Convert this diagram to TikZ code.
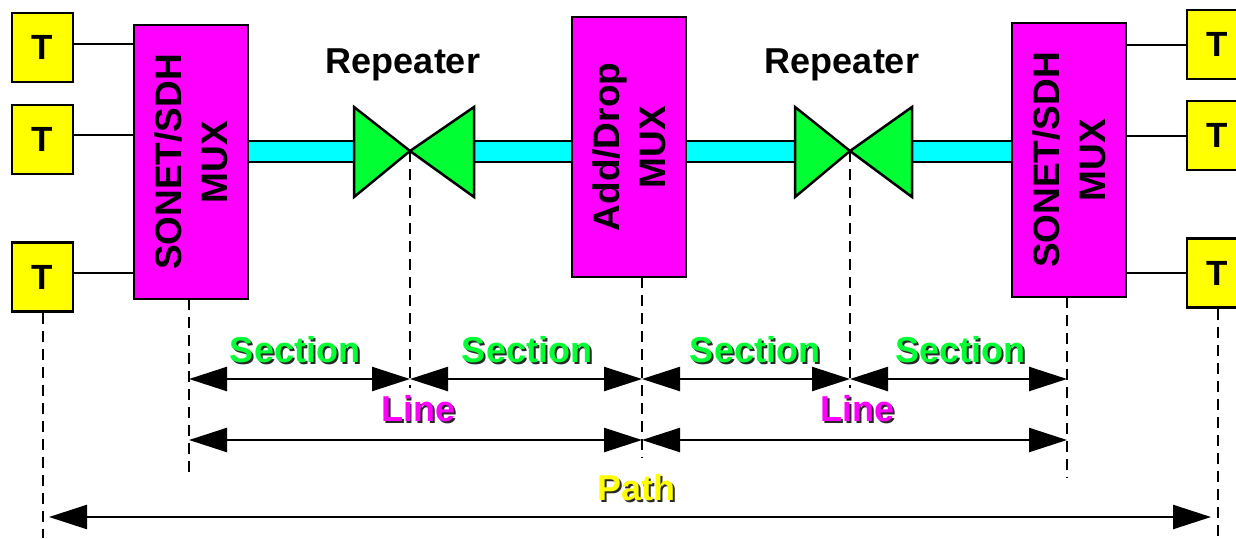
\documentclass[tikz,border=0pt]{standalone}
\usepackage{fontspec}
\setmainfont{Liberation Sans}
\usetikzlibrary{arrows.meta,calc}
\definecolor{tyel}{RGB}{255,255,0}
\definecolor{mag}{RGB}{255,0,255}
\definecolor{cy}{RGB}{0,255,255}
\definecolor{grn}{RGB}{0,255,51}
\definecolor{shd}{RGB}{40,40,40}
\newcommand\ShText[4]{%
  \node[lbl,text=shd] at ([xshift=2pt,yshift=-2pt]#2) {#4};
  \node[lbl,text=#3] (#1) at (#2) {#4};}
\begin{document}
\begin{tikzpicture}[x=1pt,y=-1pt,
  tbox/.style={draw, line width=2.5pt, fill=tyel, minimum width=61pt, minimum height=69pt, inner sep=0pt, font=\fontsize{35}{40}\selectfont\bfseries},
  muxbox/.style={draw, line width=2.5pt, fill=mag, minimum width=114pt, inner sep=0pt},
  muxtxt/.style={rotate=90, align=center, inner sep=0pt, font=\fontsize{37}{46}\selectfont\bfseries},
  lbl/.style={anchor=base, inner sep=0pt, font=\fontsize{36}{40}\selectfont\bfseries},
  wire/.style={line width=2pt},
  vdash/.style={line width=2.6pt, dash pattern=on 11pt off 7pt},
  dimarrow/.style={line width=2.4pt, {Triangle[length=38pt,width=24pt]}-{Triangle[length=38pt,width=24pt]}},
  bar/.style={draw, line width=2.5pt, fill=cy},
  tri/.style={draw, line width=2.5pt, fill=grn, line join=miter}]
\useasboundingbox (0,0) rectangle (1236,538);
\clip (0,0) rectangle (1236,538);

% terminals
\node[tbox] (tl1) at (42.5,47.5) {T};
\node[tbox] (tl2) at (42.5,139.5) {T};
\node[tbox] (tl3) at (42.5,277) {T};
\node[tbox] (tr1) at (1217.5,44.5) {T};
\node[tbox] (tr2) at (1217.5,135.5) {T};
\node[tbox] (tr3) at (1217.5,273) {T};

% muxes
\node[muxbox, minimum height=274pt] (m1) at (191,162) {};
\node[muxtxt] at (m1.center) {SONET/SDH\\MUX};
\node[muxbox, minimum height=260pt] (m2) at (629,147) {};
\node[muxtxt] at (m2.center) {Add/Drop\\MUX};
\node[muxbox, minimum height=274pt] (m3) at (1069,160) {};
\node[muxtxt] at (m3.center) {SONET/SDH\\MUX};

% tributary wires
\draw[wire] ([yshift=3.5pt]tl1.east) -- ([yshift=3.5pt]tl1.east -| m1.west);
\draw[wire] ([yshift=4.5pt]tl2.east) -- ([yshift=4.5pt]tl2.east -| m1.west);
\draw[wire] ([yshift=4pt]tl3.east) -- ([yshift=4pt]tl3.east -| m1.west);
\draw[wire] (tr1.west) -- (tr1.west -| m3.east);
\draw[wire] (tr2.west) -- (tr2.west -| m3.east);
\draw[wire] (tr3.west) -- (tr3.west -| m3.east);

% repeaters
\coordinate (r1) at (410,151);
\coordinate (r2) at (850,151);
\draw[bar] (248,141) rectangle (354,162);
\draw[bar] (474,141) rectangle (572,162);
\draw[bar] (686,141) rectangle (795,162);
\draw[bar] (912,141) rectangle (1012,162);
\draw[tri] (r1) -- ($(r1)+(-56,-44)$) -- ($(r1)+(-56,46)$) -- cycle;
\draw[tri] (r1) -- ($(r1)+(64,-44)$) -- ($(r1)+(64,46)$) -- cycle;
\draw[tri] (r2) -- ($(r2)+(-55,-44)$) -- ($(r2)+(-55,46)$) -- cycle;
\draw[tri] (r2) -- ($(r2)+(62,-44)$) -- ($(r2)+(62,46)$) -- cycle;
\node[lbl, text=black] (rep1) at (403,73) {Repeater};
\node[lbl, text=black] (rep2) at (842,73) {Repeater};

% reference coordinates
\coordinate (a1) at (189,379); \coordinate (b1) at (410,379); \coordinate (c1) at (642,379);
\coordinate (d1) at (850,379); \coordinate (e1) at (1067,379);
\coordinate (a2) at (189,440); \coordinate (c2) at (642,440); \coordinate (e2) at (1067,440);
\coordinate (p1) at (49,517); \coordinate (p2) at (1211,517);

% dashed verticals
\draw[vdash] (tl3.south -| 43,0) -- (43,538);
\draw[vdash] (189,299) -- (189,478);
\draw[vdash] (r1) -- (410,388);
\draw[vdash] (642,277) -- (642,458);
\draw[vdash] (r2) -- (850,388);
\draw[vdash] (1067,297) -- (1067,478);
\draw[vdash] (tr3.south -| 1218,0) -- (1218,538);

% dimension arrows
\draw[dimarrow] (a1) -- (b1);
\draw[dimarrow] (b1) -- (c1);
\draw[dimarrow] (c1) -- (d1);
\draw[dimarrow] (d1) -- (e1);
\draw[dimarrow] (a2) -- (c2);
\draw[dimarrow] (c2) -- (e2);
\draw[dimarrow] (p1) -- (p2);

% labels
\ShText{s1}{295,362}{grn}{Section}
\ShText{s2}{527,362}{grn}{Section}
\ShText{s3}{755,362}{grn}{Section}
\ShText{s4}{960,362}{grn}{Section}
\ShText{l1}{418,421}{mag}{Line}
\ShText{l2}{857,421}{mag}{Line}
\ShText{pa}{636,500}{tyel}{Path}
\end{tikzpicture}
\end{document}
